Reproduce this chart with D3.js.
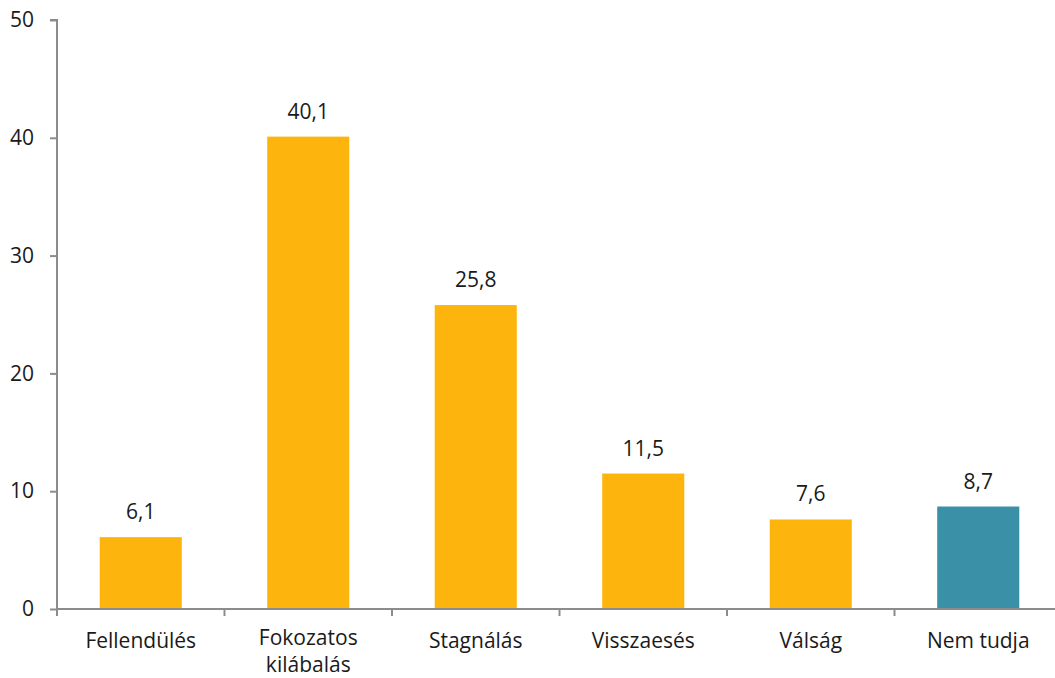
<!DOCTYPE html>
<html><head><meta charset="utf-8">
<script src="https://cdn.jsdelivr.net/npm/d3@7"></script>
<style>body{margin:0;background:#fff}svg{display:block}text{font-family:"Open Sans",sans-serif}</style>
</head><body><svg id="c" width="1055" height="678"></svg>
<script>
const categories = ["Fellendülés", "Fokozatos\nkilábalás", "Stagnálás", "Visszaesés", "Válság", "Nem tudja"];
const values = [6.1, 40.1, 25.8, 11.5, 7.6, 8.7];
const barColors = ["#FDB50E", "#FDB50E", "#FDB50E", "#FDB50E", "#FDB50E", "#3A91A7"];
const yTicks = [0, 10, 20, 30, 40, 50];

const svg = d3.select("#c");
const x0 = 57, x1 = 1062, yB = 609, yT = 20;
const x = d3.scaleBand().domain(categories).range([x0, x1]).paddingInner(0.51).paddingOuter(0.255);
const y = d3.scaleLinear().domain([0, 50]).range([yB, yT]);
const axisCol = "#8c8c8c";
const fs = 21;

svg.selectAll("rect.bar").data(values).join("rect")
  .attr("x", (d, i) => x(categories[i])).attr("width", x.bandwidth())
  .attr("y", d => y(d)).attr("height", d => yB - y(d))
  .attr("fill", (d, i) => barColors[i]);

svg.selectAll("text.val").data(values).join("text")
  .attr("x", (d, i) => x(categories[i]) + x.bandwidth() / 2)
  .attr("y", d => y(d) - 18)
  .attr("text-anchor", "middle").attr("font-size", fs).attr("fill", "#1a1a1a")
  .text(d => d.toFixed(1).replace(".", ","));

const ya = svg.append("g").attr("transform", `translate(${x0},0)`)
  .call(d3.axisLeft(y).tickValues(yTicks).tickSize(7).tickPadding(16).tickFormat(d3.format("d")));
ya.select(".domain").attr("stroke", axisCol).attr("stroke-width", 2).attr("d", `M-7,${yT}H0V${yB}`);
ya.selectAll(".tick line").attr("stroke", axisCol).attr("stroke-width", 2);
ya.selectAll(".tick text").attr("font-size", fs).attr("fill", "#1a1a1a").attr("font-family", "Open Sans");

const xa = svg.append("g");
xa.append("line").attr("x1", x0).attr("x2", x1).attr("y1", yB).attr("y2", yB).attr("stroke", axisCol).attr("stroke-width", 2);
const step = x.step();
const bounds = d3.range(categories.length + 1).map(i => x(categories[0]) - x.paddingOuter() * step + i * step);
xa.selectAll("line.t").data(bounds).join("line")
  .attr("x1", d => d).attr("x2", d => d).attr("y1", yB).attr("y2", yB + 7)
  .attr("stroke", axisCol).attr("stroke-width", 2);
const lab = xa.selectAll("text.cat").data(categories).join("text")
  .attr("text-anchor", "middle").attr("font-size", fs).attr("fill", "#1a1a1a")
  .attr("transform", d => `translate(${x(d) + x.bandwidth() / 2},${648 - (d.split("\n").length - 1) * 3})`);
lab.selectAll("tspan").data(d => d.split("\n")).join("tspan")
  .attr("x", 0).attr("dy", (d, i) => i === 0 ? 0 : 27).text(d => d);
</script></body></html>
